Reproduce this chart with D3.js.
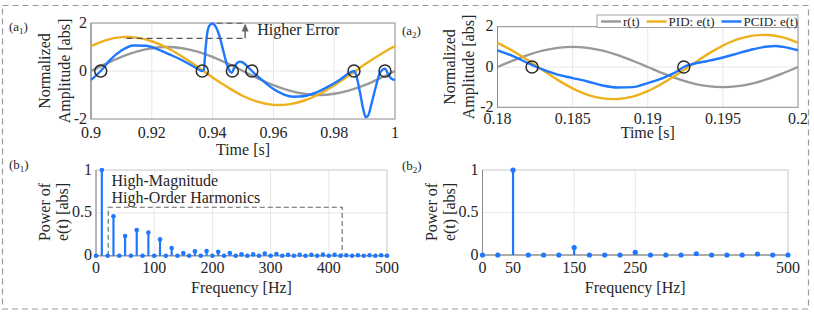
<!DOCTYPE html>
<html>
<head>
<meta charset="utf-8">
<script src="https://cdn.jsdelivr.net/npm/d3@7"></script>
<style>
body { margin: 0; background: #fff; }
svg text { font-family: "Liberation Serif", "Times New Roman", serif; fill: #262626; }
</style>
</head>
<body>
<script>
// ---- data ----
// (a1) 0.9 .. 1 s
var timeA1 = [0.9, 0.905, 0.91, 0.915, 0.92, 0.925, 0.93, 0.935, 0.94, 0.945, 0.95,
              0.955, 0.96, 0.965, 0.97, 0.975, 0.98, 0.985, 0.99, 0.995, 1.0];
var refA1 = [0, 0.31, 0.59, 0.81, 0.95, 1, 0.95, 0.81, 0.59, 0.31, 0,
             -0.31, -0.59, -0.81, -0.95, -1, -0.95, -0.81, -0.59, -0.31, 0];
var pidA1 = [1.04, 1.29, 1.41, 1.39, 1.24, 0.97, 0.6, 0.18, -0.27, -0.68, -1.04,
             -1.29, -1.41, -1.39, -1.24, -0.97, -0.6, -0.18, 0.27, 0.68, 1.04];
var pcidTimeA1 = [0.9, 0.9032, 0.906, 0.91, 0.914, 0.918, 0.922, 0.926, 0.93, 0.9336, 0.9366,
                  0.9371, 0.9376, 0.9382, 0.939, 0.94, 0.941, 0.9424, 0.9435, 0.9446, 0.9455,
                  0.9463, 0.947, 0.948, 0.949, 0.95, 0.9515, 0.9533, 0.956, 0.96, 0.9635,
                  0.9665, 0.97, 0.974, 0.978, 0.982, 0.985, 0.9866, 0.9875, 0.9885, 0.9896,
                  0.9904, 0.9912, 0.9922, 0.9934, 0.995, 0.9967, 0.998, 0.999, 1.0];
var pcidA1 = [-0.37, 0, 0.42, 0.85, 1.06, 1.05, 0.9, 0.68, 0.45, 0.2, 0,
              0.05, 0.8, 1.55, 1.9, 1.98, 1.85, 1.4, 0.85, 0.32, 0.02,
              -0.08, 0.1, 0.33, 0.39, 0.35, 0.18, -0.05, -0.35, -0.75, -0.98,
              -1.07, -1.05, -0.9, -0.65, -0.35, -0.08, 0, -0.3, -0.9, -1.62,
              -1.93, -1.85, -1.4, -0.8, -0.1, 0.1, -0.2, -0.33, -0.37];
var zerosA1 = [0.9032, 0.9366, 0.9465, 0.9529, 0.9865, 0.9967];

// (a2) 0.18 .. 0.2 s
var timeA2 = [0.18, 0.181, 0.182, 0.183, 0.184, 0.185, 0.186, 0.187, 0.188, 0.189, 0.19,
              0.191, 0.192, 0.193, 0.194, 0.195, 0.196, 0.197, 0.198, 0.199, 0.2];
var refA2 = [0, 0.31, 0.59, 0.81, 0.95, 1, 0.95, 0.81, 0.59, 0.31, 0,
             -0.31, -0.59, -0.81, -0.95, -1, -0.95, -0.81, -0.59, -0.31, 0];
var pidA2 = [1.2, 0.81, 0.35, -0.15, -0.64, -1.06, -1.38, -1.56, -1.59, -1.47, -1.2,
             -0.81, -0.35, 0.15, 0.64, 1.06, 1.38, 1.56, 1.59, 1.47, 1.2];
var pcidTimeA2 = [0.18, 0.181, 0.182, 0.1826, 0.183, 0.184, 0.185, 0.186, 0.187, 0.188, 0.189,
                  0.19, 0.191, 0.192, 0.1924, 0.193, 0.194, 0.195, 0.196, 0.197, 0.198,
                  0.1985, 0.199, 0.2];
var pcidA2 = [0.83, 0.55, 0.2, 0, -0.12, -0.38, -0.55, -0.72, -0.92, -1.02, -1.0,
              -0.8, -0.55, -0.2, 0, 0.15, 0.3, 0.47, 0.68, 0.88, 1.02,
              1.04, 1.0, 0.83];
var zerosA2 = [0.1823, 0.1924];

// (b1) spectrum, 10 Hz bins
var freqB1 = [0, 10, 20, 30, 40, 50, 60, 70, 80, 90, 100, 110, 120, 130, 140, 150, 160,
              170, 180, 190, 200, 210, 220, 230, 240, 250, 260, 270, 280, 290, 300, 310,
              320, 330, 340, 350, 360, 370, 380, 390, 400, 410, 420, 430, 440, 450, 460,
              470, 480, 490, 500];
var powerB1 = [0, 1, 0, 0.46, 0, 0.23, 0, 0.3, 0, 0.27, 0, 0.19, 0, 0.09, 0, 0.03, 0,
               0.05, 0, 0.055, 0, 0.045, 0, 0.03, 0, 0.015, 0, 0.015, 0, 0.025, 0, 0.02,
               0, 0.01, 0, 0.01, 0, 0.01, 0, 0.012, 0, 0.01, 0, 0.006, 0, 0.005, 0,
               0.005, 0, 0.005, 0];

// (b2) spectrum, 25 Hz bins
var freqB2 = [0, 25, 50, 75, 100, 125, 150, 175, 200, 225, 250, 275, 300, 325, 350, 375,
              400, 425, 450, 475, 500];
var powerB2 = [0, 0, 1, 0, 0, 0, 0.087, 0, 0, 0, 0.03, 0, 0, 0, 0.015, 0,
               0, 0, 0.012, 0, 0];

// ticks
var ticksA1 = [0.9, 0.92, 0.94, 0.96, 0.98, 1];
var ticksA2 = [0.18, 0.185, 0.19, 0.195, 0.2];
var ticksAmp = [-2, 0, 2];
var ticksB1 = [0, 100, 200, 300, 400, 500];
var ticksB2 = [0, 50, 150, 250, 500];
var ticksPow = [0, 0.5, 1];
var legendNames = ["r(t)", "PID: e(t)", "PCID: e(t)"];

var colRef = "#999999";
var colPid = "#EDB120";
var colPcid = "#1f78ff";

var width = 814;
var height = 315;

const svg = d3.select("body")
  .append("svg")
    .attr("width", width)
    .attr("height", height);

// outer dashed frame
svg.append("rect")
    .attr("x", 2.5).attr("y", 5.5)
    .attr("width", 806).attr("height", 303.5)
    .attr("fill", "none")
    .attr("stroke", "#9a9a9a")
    .attr("stroke-width", 1.2)
    .attr("stroke-dasharray", "6,4");

function panel(o) {
    var x = d3.scaleLinear().domain(o.xDomain).range([o.left, o.right]);
    var y = d3.scaleLinear().domain(o.yDomain).range([o.bottom, o.top]);
    var g = svg.append("g");

    // grid
    g.selectAll(".gx").data(o.xTicks.slice(1, -1)).enter().append("line")
        .attr("x1", d => x(d)).attr("x2", d => x(d))
        .attr("y1", o.top).attr("y2", o.bottom)
        .attr("stroke", "#e6e6e6");
    g.selectAll(".gy").data(o.yGrid).enter().append("line")
        .attr("x1", o.left).attr("x2", o.right)
        .attr("y1", d => y(d)).attr("y2", d => y(d))
        .attr("stroke", "#e6e6e6");

    // box
    g.append("rect")
        .attr("x", o.left).attr("y", o.top)
        .attr("width", o.right - o.left).attr("height", o.bottom - o.top)
        .attr("fill", "none")
        .attr("stroke", o.boxColor);
    g.append("line")
        .attr("x1", o.left).attr("x2", o.left)
        .attr("y1", o.top).attr("y2", o.bottom)
        .attr("stroke", "#8a8a8a");

    // tick labels
    g.selectAll(".tx").data(o.xTicks).enter().append("text")
        .attr("x", d => x(d))
        .attr("y", o.xTickY)
        .attr("text-anchor", "middle")
        .attr("font-size", 16)
        .text(d => d);
    g.selectAll(".ty").data(o.yTicks).enter().append("text")
        .attr("x", o.left - 4)
        .attr("y", d => y(d) + 4.5)
        .attr("text-anchor", "end")
        .attr("font-size", 16)
        .text(d => d);

    // axis labels
    g.append("text")
        .attr("x", (o.left + o.right) / 2)
        .attr("y", o.xLabelY)
        .attr("text-anchor", "middle")
        .attr("font-size", 16)
        .text(o.xLabel);
    o.yLabel.forEach((s, i) => {
        g.append("text")
            .attr("transform", "translate(" + o.yLabelX[i] + "," + o.yLabelMid + ") rotate(-90)")
            .attr("text-anchor", "middle")
            .attr("font-size", 16)
            .text(s);
    });

    // panel tag
    var tag = g.append("text")
        .attr("x", o.tagX).attr("y", o.tagY)
        .attr("font-size", 13);
    tag.append("tspan").text("(" + o.tag[0]);
    tag.append("tspan").attr("font-size", 9).attr("dy", 3).text(o.tag[1]);
    tag.append("tspan").attr("dy", -3).text(")");

    return {x: x, y: y, g: g};
}

function drawLine(p, xs, ys, color, curve) {
    var pts = xs.map((d, i) => [d, ys[i]]);
    p.g.append("path")
        .datum(pts)
        .attr("fill", "none")
        .attr("stroke", color)
        .attr("stroke-width", 2.4)
        .attr("stroke-linejoin", "round")
        .attr("d", d3.line().x(d => p.x(d[0])).y(d => p.y(d[1])).curve(curve));
}

function drawZeros(p, zs) {
    p.g.selectAll(".zc").data(zs).enter().append("circle")
        .attr("cx", d => p.x(d))
        .attr("cy", p.y(0))
        .attr("r", 6)
        .attr("fill", "none")
        .attr("stroke", "#2b2b2b")
        .attr("stroke-width", 1.5);
}

function drawStems(p, fs, vs, r) {
    var pts = fs.map((d, i) => [d, vs[i]]);
    p.g.append("line")
        .attr("x1", p.x(fs[0])).attr("x2", p.x(fs[fs.length - 1]))
        .attr("y1", p.y(0)).attr("y2", p.y(0))
        .attr("stroke", "#9a9a9a").attr("stroke-width", 1.5);
    p.g.selectAll(".stem").data(pts).enter().append("line")
        .attr("x1", d => p.x(d[0])).attr("x2", d => p.x(d[0]))
        .attr("y1", p.y(0)).attr("y2", d => p.y(d[1]))
        .attr("stroke", colPcid).attr("stroke-width", 2.2);
    p.g.selectAll(".dot").data(pts).enter().append("circle")
        .attr("cx", d => p.x(d[0])).attr("cy", d => p.y(d[1]))
        .attr("r", r)
        .attr("fill", colPcid);
}

// ---- (a1) ----
var a1 = panel({
    xDomain: [0.9, 1], yDomain: [-2, 2],
    left: 91, right: 395, top: 23, bottom: 119,
    xTicks: ticksA1, yTicks: ticksAmp, yGrid: [0],
    xTickY: 138, xLabel: "Time [s]", xLabelY: 155,
    yLabel: ["Normalized", "Amplitude [abs]"], yLabelX: [50, 70], yLabelMid: 71,
    tag: ["a", "1"], tagX: 9, tagY: 31, boxColor: "#8a8a8a"
});
drawLine(a1, timeA1, refA1, colRef, d3.curveCatmullRom);
drawLine(a1, timeA1, pidA1, colPid, d3.curveCatmullRom);
drawLine(a1, pcidTimeA1, pcidA1, colPcid, d3.curveMonotoneX);
drawZeros(a1, zerosA1);

// higher error marker
a1.g.append("path")
    .attr("d", "M" + a1.x(0.9117) + "," + a1.y(1.36) + "H" + a1.x(0.9507) +
               "M" + a1.x(0.9413) + "," + a1.y(1.99) + "H" + a1.x(0.9507))
    .attr("fill", "none")
    .attr("stroke", "#555")
    .attr("stroke-width", 1.2)
    .attr("stroke-dasharray", "6,4");
a1.g.append("line")
    .attr("x1", a1.x(0.9507)).attr("x2", a1.x(0.9507))
    .attr("y1", a1.y(1.36)).attr("y2", a1.y(1.75))
    .attr("stroke", "#666").attr("stroke-width", 1.5);
a1.g.append("path")
    .attr("d", "M" + a1.x(0.9507) + "," + a1.y(1.98) +
               "L" + (a1.x(0.9507) - 3.5) + "," + a1.y(1.65) +
               "L" + (a1.x(0.9507) + 3.5) + "," + a1.y(1.65) + "Z")
    .attr("fill", "#666");
a1.g.append("text")
    .attr("x", a1.x(0.9507) + 12).attr("y", 35)
    .attr("font-size", 16)
    .text("Higher Error");

// ---- (a2) ----
var a2 = panel({
    xDomain: [0.18, 0.2], yDomain: [-2, 2],
    left: 497.5, right: 798, top: 26.7, bottom: 107.3,
    xTicks: ticksA2, yTicks: ticksAmp, yGrid: [0],
    xTickY: 124, xLabel: "Time [s]", xLabelY: 138,
    yLabel: ["Normalized", "Amplitude [abs]"], yLabelX: [455, 474], yLabelMid: 67,
    tag: ["a", "2"], tagX: 402, tagY: 35, boxColor: "#8a8a8a"
});
drawLine(a2, timeA2, refA2, colRef, d3.curveCatmullRom);
drawLine(a2, timeA2, pidA2, colPid, d3.curveCatmullRom);
drawLine(a2, pcidTimeA2, pcidA2, colPcid, d3.curveMonotoneX);
drawZeros(a2, zerosA2);

// legend
var leg = a2.g.append("g");
leg.append("rect")
    .attr("x", 597).attr("y", 15)
    .attr("width", 201).attr("height", 12.5)
    .attr("fill", "#fff")
    .attr("stroke", "#8a8a8a").attr("stroke-width", 0.8);
var lx = 601;
[colRef, colPid, colPcid].forEach((c, i) => {
    leg.append("line")
        .attr("x1", lx).attr("x2", lx + 20)
        .attr("y1", 21.5).attr("y2", 21.5)
        .attr("stroke", c).attr("stroke-width", 2.4);
    var t = leg.append("text")
        .attr("x", lx + 22).attr("y", 25.5)
        .attr("font-size", 13)
        .text(legendNames[i]);
    lx += 22 + t.node().getComputedTextLength() + 7;
});

// ---- (b1) ----
var b1 = panel({
    xDomain: [0, 500], yDomain: [0, 1],
    left: 96, right: 387, top: 170, bottom: 255.7,
    xTicks: ticksB1, yTicks: ticksPow, yGrid: [0.5],
    xTickY: 273, xLabel: "Frequency [Hz]", xLabelY: 293,
    yLabel: ["Power of", "e(t) [abs]"], yLabelX: [50, 68], yLabelMid: 212,
    tag: ["b", "1"], tagX: 9, tagY: 169, boxColor: "#c8c8c8"
});
b1.g.append("path")
    .attr("d", "M" + b1.x(21) + "," + b1.y(0) + "V" + b1.y(0.565) +
               "H" + b1.x(423) + "V" + b1.y(0))
    .attr("fill", "none")
    .attr("stroke", "#666")
    .attr("stroke-width", 1.1)
    .attr("stroke-dasharray", "5,3");
drawStems(b1, freqB1, powerB1, 2.3);
b1.g.append("text")
    .attr("x", 111.5).attr("y", 186)
    .attr("font-size", 16)
    .text("High-Magnitude");
b1.g.append("text")
    .attr("x", 111.5).attr("y", 203)
    .attr("font-size", 16)
    .text("High-Order Harmonics");

// ---- (b2) ----
var b2 = panel({
    xDomain: [0, 500], yDomain: [0, 1],
    left: 482.5, right: 788, top: 170, bottom: 255,
    xTicks: ticksB2, yTicks: ticksPow, yGrid: [0.5],
    xTickY: 273, xLabel: "Frequency [Hz]", xLabelY: 293,
    yLabel: ["Power of", "e(t) [abs]"], yLabelX: [437, 455], yLabelMid: 212,
    tag: ["b", "2"], tagX: 402, tagY: 170, boxColor: "#c8c8c8"
});
drawStems(b2, freqB2, powerB2, 2.6);
</script>
</body>
</html>
